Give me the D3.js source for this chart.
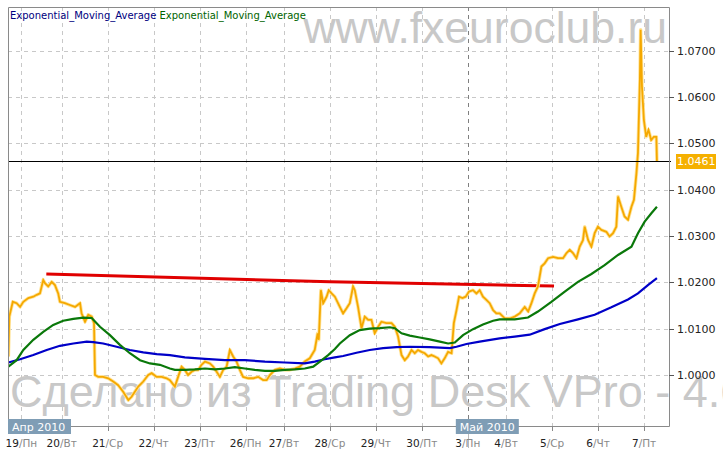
<!DOCTYPE html>
<html><head><meta charset="utf-8">
<script src="https://cdn.jsdelivr.net/npm/d3@7"></script>
<style>
html,body{margin:0;padding:0;background:#fff;}
svg{display:block;}
</style></head>
<body>
<script>
// ---------- DATA ----------
const dayNums  = ["19","20","21","22","23","26","27","28","29","30","3","4","5","6","7"];
const dayNames = ["Пн","Вт","Ср","Чт","Пт","Пн","Вт","Ср","Чт","Пт","Пн","Вт","Ср","Чт","Пт"];
const dayTickHours = [7,28,52,76,100,124,144,168,192,216,240,260,284,308,332];
const monthLabels = ["Апр 2010","Май 2010"];
const monthHours = [0,240];
const yTicks = [1.00,1.01,1.02,1.03,1.04,1.05,1.06,1.07];
const lastPrice = 1.0461;
const legendNames = ["Exponential_Moving_Average","Exponential_Moving_Average"];

const priceHours = [0.2,0.7,2.5,4.5,6.3,8.0,10.6,13.2,15.0,16.7,18.4,19.3,21.0,22.8,24.5,26.2,27.1,29.7,32.3,35.0,37.6,38.4,40.2,41.9,43.7,44.9,45.4,47.1,49.7,52.3,54.9,57.5,60.1,62.8,64.5,66.2,68.0,70.6,73.2,75.0,77.6,80.2,82.8,84.5,87.1,88.8,90.6,92.3,94.0,95.8,97.5,99.3,101.0,102.8,105.4,107.1,108.9,110.6,112.3,114.1,115.8,117.5,119.3,121.0,122.7,125.4,128.0,130.6,133.2,135.0,136.7,139.3,141.9,144.5,147.1,149.7,152.3,154.9,157.5,160.1,161.6,162.2,163.3,164.5,166.3,167.4,168.9,170.6,173.2,174.9,176.7,178.4,180.1,181.0,182.7,184.5,186.2,188.0,189.7,191.4,193.2,194.9,197.5,200.2,201.9,203.6,205.4,207.1,208.8,210.6,212.3,214.0,215.8,217.5,219.3,221.0,222.7,224.5,226.2,227.9,229.7,231.5,232.7,234.1,235.4,237.2,238.9,240.6,242.7,244.5,246.2,247.9,249.7,251.4,253.2,254.9,256.6,259.3,261.9,264.5,267.1,269.7,271.5,273.2,274.9,276.6,278.4,280.1,281.9,284.5,287.1,289.7,291.5,293.2,294.9,296.7,298.4,300.1,301.0,302.8,304.5,306.2,307.9,309.7,312.3,314.0,315.8,317.5,318.4,320.1,321.8,323.6,325.4,326.7,328.0,328.8,329.8,330.2,330.9,331.9,333.1,334.3,335.7,337.1,338.4,338.7];
const priceValues = [1.0040,1.0126,1.0158,1.0155,1.0147,1.0158,1.0166,1.0169,1.0173,1.0176,1.0205,1.0198,1.0191,1.0201,1.0194,1.0176,1.0158,1.0155,1.0151,1.0147,1.0155,1.0133,1.0115,1.0130,1.0126,1.0112,1.0000,0.9996,0.9996,0.9993,0.9986,0.9978,0.9964,0.9946,0.9953,0.9964,0.9975,0.9986,1.0000,1.0004,0.9996,0.9996,0.9993,0.9989,0.9975,0.9996,1.0018,1.0011,1.0000,1.0007,1.0011,1.0011,1.0022,1.0029,1.0025,1.0018,1.0007,0.9996,1.0011,1.0018,1.0054,1.0040,1.0029,1.0011,0.9996,0.9993,0.9993,0.9996,0.9989,0.9989,1.0000,1.0011,1.0014,1.0011,1.0011,1.0014,1.0018,1.0029,1.0036,1.0054,1.0090,1.0076,1.0183,1.0155,1.0169,1.0183,1.0176,1.0169,1.0147,1.0133,1.0144,1.0155,1.0191,1.0183,1.0147,1.0101,1.0126,1.0119,1.0119,1.0090,1.0104,1.0115,1.0112,1.0112,1.0104,1.0083,1.0043,1.0032,1.0040,1.0054,1.0047,1.0054,1.0050,1.0047,1.0040,1.0043,1.0040,1.0036,1.0025,1.0036,1.0050,1.0047,1.0112,1.0140,1.0169,1.0166,1.0169,1.0180,1.0183,1.0176,1.0183,1.0169,1.0162,1.0155,1.0140,1.0133,1.0133,1.0122,1.0122,1.0126,1.0133,1.0147,1.0137,1.0155,1.0176,1.0191,1.0234,1.0241,1.0252,1.0255,1.0252,1.0252,1.0263,1.0270,1.0263,1.0252,1.0277,1.0291,1.0320,1.0291,1.0277,1.0306,1.0320,1.0313,1.0309,1.0299,1.0306,1.0320,1.0385,1.0363,1.0342,1.0335,1.0363,1.0378,1.0435,1.0479,1.0637,1.0745,1.0622,1.0550,1.0514,1.0529,1.0507,1.0514,1.0514,1.0461];

const greenHours = [0.2,4.5,8.0,13.2,18.4,23.6,28.8,34.1,39.3,43.7,48.0,53.2,58.4,63.6,68.9,74.1,79.3,84.5,87.1,92.3,97.5,102.8,108.0,113.2,118.4,123.6,128.8,134.1,139.3,144.5,149.7,154.9,159.3,162.8,167.1,170.6,173.2,178.4,183.6,188.8,194.1,199.3,201.9,205.4,209.7,214.9,220.1,225.4,229.7,233.2,237.5,242.7,247.9,253.2,256.6,264.5,271.4,276.6,283.6,290.6,297.5,304.5,311.4,318.4,325.4,328.8,332.3,335.8,338.7];
const greenValues = [1.0018,1.0032,1.0054,1.0076,1.0093,1.0108,1.0117,1.0121,1.0124,1.0123,1.0104,1.0086,1.0065,1.0047,1.0032,1.0025,1.0022,1.0014,1.0011,1.0011,1.0012,1.0014,1.0012,1.0014,1.0017,1.0014,1.0011,1.0009,1.0009,1.0011,1.0012,1.0014,1.0018,1.0029,1.0043,1.0056,1.0068,1.0086,1.0097,1.0100,1.0101,1.0103,1.0101,1.0090,1.0085,1.0081,1.0077,1.0072,1.0068,1.0070,1.0086,1.0099,1.0109,1.0117,1.0120,1.0120,1.0124,1.0137,1.0158,1.0180,1.0201,1.0218,1.0237,1.0259,1.0277,1.0306,1.0331,1.0349,1.0363];

const blueHours = [0.2,6.3,13.2,20.2,27.1,34.1,41.1,44.5,49.7,56.7,63.6,70.6,77.6,84.5,92.3,102.8,113.2,123.6,134.1,144.5,154.9,160.1,165.3,170.6,174.9,181.9,188.8,195.8,202.8,209.7,220.1,230.6,234.1,239.3,246.2,256.6,264.5,272.3,280.1,288.0,297.5,306.2,314.9,323.6,328.8,334.0,338.7];
const blueValues = [1.0027,1.0034,1.0043,1.0054,1.0063,1.0068,1.0072,1.0071,1.0068,1.0061,1.0054,1.0049,1.0045,1.0043,1.0038,1.0035,1.0032,1.0032,1.0029,1.0027,1.0025,1.0029,1.0034,1.0038,1.0041,1.0048,1.0054,1.0058,1.0060,1.0061,1.0060,1.0058,1.0061,1.0067,1.0072,1.0079,1.0083,1.0087,1.0099,1.0110,1.0120,1.0130,1.0146,1.0163,1.0176,1.0194,1.0209];

const redHours = [20,82,168,257,285];
const redValues = [1.0218,1.0211,1.0201,1.0194,1.0192];

// ---------- LAYOUT ----------
(function(){
const W = 723, H = 456;
const pL = 8, pR = 669, pT = 7, pB = 426;

const x = d3.scaleLinear().domain([0,345]).range([pL,pR]);
const y = d3.scaleLinear().domain([0.9890,1.0794]).range([pB,pT]);

const svg = d3.select("body").append("svg").attr("width",W).attr("height",H)
  .style("font-family","'DejaVu Sans', Verdana, sans-serif");

svg.append("rect").attr("width",W).attr("height",H).attr("fill","#fff");

svg.append("defs").append("clipPath").attr("id","plotclip")
  .append("rect").attr("x",pL).attr("y",pT).attr("width",pR-pL).attr("height",pB-pT);

// gridlines
const grid = svg.append("g");
grid.selectAll("line.h").data(yTicks).join("line").attr("class","h")
  .attr("x1",pL).attr("x2",pR)
  .attr("y1",d=>Math.round(y(d))+0.5).attr("y2",d=>Math.round(y(d))+0.5)
  .attr("stroke","#c8c8c8").attr("stroke-dasharray","4,4");
grid.selectAll("line.v").data(dayTickHours).join("line").attr("class","v")
  .attr("x1",d=>Math.round(x(d))+0.5).attr("x2",d=>Math.round(x(d))+0.5)
  .attr("y1",pT).attr("y2",pB)
  .attr("stroke",d=>monthHours.includes(d)?"#808080":"#c8c8c8")
  .attr("stroke-dasharray","4,4");

// watermarks
svg.append("text").attr("x",667).attr("y",43).attr("text-anchor","end")
  .style("font-family","'Liberation Sans', Arial, sans-serif").style("font-size","44.5px")
  .attr("fill","#c8c8c8").text("www.fxeuroclub.ru");
svg.append("text").attr("x",10).attr("y",407)
  .style("font-family","'Liberation Sans', Arial, sans-serif").style("font-size","45px")
  .attr("fill","#c8c8c8").text("Сделано из Trading Desk VPro - 4.6");

const plot = svg.append("g").attr("clip-path","url(#plotclip)");
const line = d3.line().x(d=>x(d[0])).y(d=>y(d[1]));

// red line
plot.append("path").datum(d3.zip(redHours,redValues))
  .attr("d",line).attr("fill","none").attr("stroke","#e00000").attr("stroke-width",3);

// price
const priceData = d3.zip(priceHours,priceValues);
plot.append("path").datum(priceData).attr("d",line).attr("fill","none")
  .attr("stroke","#ffe49a").attr("stroke-width",3.5).attr("stroke-linejoin","round");
plot.append("path").datum(priceData).attr("d",line).attr("fill","none")
  .attr("stroke","#f5a800").attr("stroke-width",1.8).attr("stroke-linejoin","miter");

// EMAs
plot.append("path").datum(d3.zip(blueHours,blueValues)).attr("d",line)
  .attr("fill","none").attr("stroke","#0000c8").attr("stroke-width",2.2);
plot.append("path").datum(d3.zip(greenHours,greenValues)).attr("d",line)
  .attr("fill","none").attr("stroke","#0a780a").attr("stroke-width",2.2);

// last price line
svg.append("line").attr("x1",pL).attr("x2",pR+2)
  .attr("y1",Math.round(y(lastPrice))+0.5).attr("y2",Math.round(y(lastPrice))+0.5)
  .attr("stroke","#000").attr("stroke-width",1);

// frame
svg.append("path").attr("d",`M${pL+0.5},${pT+0.5}H${pR+0.5}V${pB+0.5}H${pL+0.5}Z`)
  .attr("fill","none").attr("stroke","#8a8a8a");

// right axis
const yAxis = svg.append("g");
yAxis.selectAll("line").data(yTicks).join("line")
  .attr("x1",pR).attr("x2",pR+5)
  .attr("y1",d=>Math.round(y(d))+0.5).attr("y2",d=>Math.round(y(d))+0.5)
  .attr("stroke","#555");
yAxis.selectAll("text").data(yTicks).join("text")
  .attr("x",677).attr("y",d=>y(d)+4)
  .style("font-size","11px").attr("fill","#222")
  .text(d=>d3.format(".4f")(d));

// last price label
const ly = y(lastPrice);
svg.append("rect").attr("x",676).attr("y",Math.round(ly)-7).attr("width",40).attr("height",15)
  .attr("fill","#f5b000");
svg.append("text").attr("x",677).attr("y",ly+4).style("font-size","11px")
  .attr("fill","#fff").text(d3.format(".4f")(lastPrice));

// bottom axis ticks
const xAxis = svg.append("g");
xAxis.selectAll("line.t").data(dayTickHours).join("line").attr("class","t")
  .attr("x1",d=>Math.round(x(d))+0.5).attr("x2",d=>Math.round(x(d))+0.5)
  .attr("y1",pB).attr("y2",pB+5).attr("stroke","#888");
xAxis.selectAll("line.sep").data(monthHours.filter(h=>h>0)).join("line").attr("class","sep")
  .attr("x1",d=>Math.round(x(d))+0.5).attr("x2",d=>Math.round(x(d))+0.5)
  .attr("y1",pB).attr("y2",pB+22).attr("stroke","#bbb");

const lab = xAxis.selectAll("text.day").data(dayTickHours).join("text").attr("class","day")
  .attr("x",d=>x(d)).attr("y",447).attr("text-anchor","middle").style("font-size","10.5px");
lab.append("tspan").attr("fill","#222").text((d,i)=>dayNums[i]);
lab.append("tspan").attr("fill","#888").text((d,i)=>"/"+dayNames[i]);

// month boxes
monthHours.forEach((h,i)=>{
  const bx = Math.max(pL, x(h)-12);
  svg.append("rect").attr("x",bx).attr("y",419).attr("width",63).attr("height",15).attr("fill","#7f9db5");
  svg.append("text").attr("x",bx+4).attr("y",431).style("font-size","11px")
    .attr("fill","#fff").text(monthLabels[i]);
});

// legend
const lg = svg.append("text").attr("x",10).attr("y",19).style("font-size","10px");
lg.append("tspan").attr("fill","#000080").text(legendNames[0]);
lg.append("tspan").attr("fill","#006400").text(" "+legendNames[1]);
})();
</script>
</body></html>
